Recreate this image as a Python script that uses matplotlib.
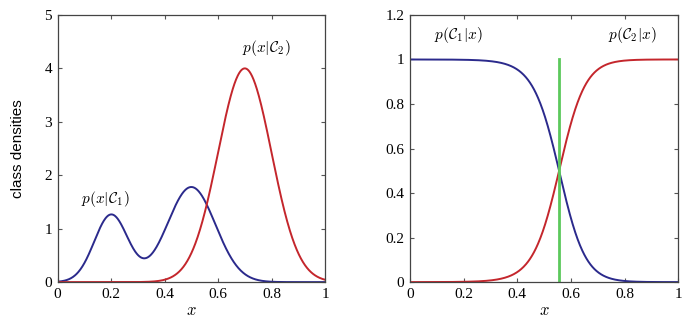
import numpy as np
import matplotlib.pyplot as plt

plt.rcParams['mathtext.fontset'] = 'cm'
plt.rcParams['font.family'] = 'Liberation Serif'

# class 1: two gaussian bumps, class 2: one gaussian bump
c1_centres = [0.2, 0.5]
c1_peaks = [1.26, 1.78]
c1_widths = [0.063, 0.09]
c2_centres = [0.7]
c2_peaks = [4.0]
c2_widths = [0.1]

# posterior p(C1|x): logistic around the decision boundary
boundary = 0.556
post_slope = 20.4
post_curve = 5.2

blue = '#2b2a8c'
red = '#c4262c'
green = '#5cc95c'

x = np.linspace(0, 1, 801)


def mixture(centres, peaks, widths):
    y = np.zeros_like(x)
    for m, h, s in zip(centres, peaks, widths):
        y += h * np.exp(-(x - m) ** 2 / (2 * s ** 2))
    return y


p1 = mixture(c1_centres, c1_peaks, c1_widths)
p2 = mixture(c2_centres, c2_peaks, c2_widths)

d = x - boundary
post1 = 1 / (1 + np.exp(post_slope * d + post_curve * d ** 2))
post2 = 1 - post1

fig = plt.figure(figsize=(6.9, 3.25), dpi=100)
ax1 = fig.add_axes([0.0836, 0.132, 0.3874, 0.822])
ax2 = fig.add_axes([0.594, 0.132, 0.389, 0.822])

for ax in (ax1, ax2):
    ax.tick_params(direction='in', top=True, right=True, length=3,
                   labelsize=11, color='#555555', pad=4)
    for sp in ax.spines.values():
        sp.set_color('#444444')
        sp.set_linewidth(0.9)
    ax.set_xlim(0, 1)
    ax.set_xticks([0, 0.2, 0.4, 0.6, 0.8, 1])
    ax.set_xticklabels(['0', '0.2', '0.4', '0.6', '0.8', '1'])
    ax.set_xlabel('$x$', fontsize=12, labelpad=2)

# left: class-conditional densities
ax1.plot(x, p1, color=blue, lw=1.4)
ax1.plot(x, p2, color=red, lw=1.4)
ax1.set_ylim(0, 5)
ax1.set_yticks([0, 1, 2, 3, 4, 5])
ax1.set_ylabel('class densities', family='Liberation Sans', fontsize=11,
               labelpad=14)
ax1.text(0.18, 1.48, r'$p(x|\mathcal{C}_1)$', fontsize=11, ha='center')
ax1.text(0.78, 4.3, r'$p(x|\mathcal{C}_2)$', fontsize=11, ha='center')

# right: posterior probabilities and decision boundary
ax2.plot(x, post1, color=blue, lw=1.4)
ax2.plot(x, post2, color=red, lw=1.4)
ax2.plot([boundary, boundary], [0, 1], color=green, lw=2)
ax2.set_ylim(0, 1.2)
ax2.set_yticks([0, 0.2, 0.4, 0.6, 0.8, 1, 1.2])
ax2.set_yticklabels(['0', '0.2', '0.4', '0.6', '0.8', '1', '1.2'])
ax2.text(0.18, 1.09, r'$p(\mathcal{C}_1|x)$', fontsize=11, ha='center')
ax2.text(0.83, 1.09, r'$p(\mathcal{C}_2|x)$', fontsize=11, ha='center')

fig.savefig('out.png', dpi=100)
